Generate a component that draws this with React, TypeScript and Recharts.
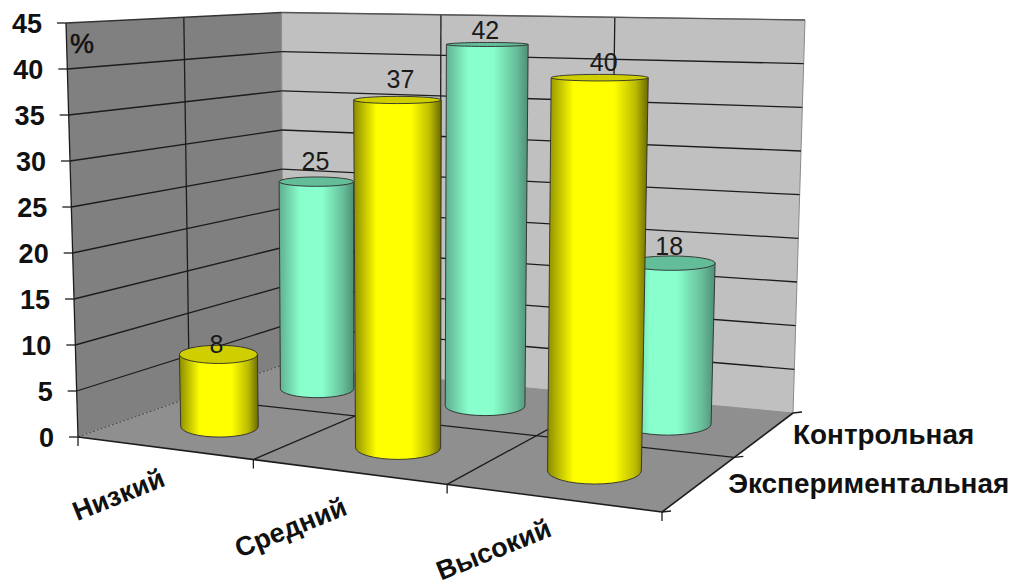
import React from 'react'
import { BarChart, Bar, XAxis, YAxis, LabelList } from 'recharts'

const categories = ['Низкий', 'Средний', 'Высокий']
const experimental = [8, 37, 40]
const control = [25, 42, 18]
const valueTicks = [0, 5, 10, 15, 20, 25, 30, 35, 40, 45]
const seriesNames = ['Экспериментальная', 'Контрольная']
const unitLabel = '%'

const rows = categories.map((name, i) => ({ name, experimental: experimental[i], control: control[i] }))

const W = 1016
const H = 585
const MAX_VALUE = 45
const FRONT_Z = 0.5
const BACK_Z = 1.5
const RADIUS_Z = 0.26
const BAR_SIZE = 154
const FONT = '"Liberation Sans", Arial, sans-serif'

// screen corners of the box at value 0 and at value 45
// order: front-left, front-right, back-right, back-left
const floorCorners = [[78, 437], [662, 512], [793, 413], [283, 365]]
const ceilCorners = [[66, 23], [671, 35], [805, 20], [281.5, 12.5]]

// unit square to quad homography
function squareToQuad(q: number[][]) {
  const [[x0, y0], [x1, y1], [x2, y2], [x3, y3]] = q
  const sx = x0 - x1 + x2 - x3
  const sy = y0 - y1 + y2 - y3
  const dx1 = x1 - x2
  const dx2 = x3 - x2
  const dy1 = y1 - y2
  const dy2 = y3 - y2
  const det = dx1 * dy2 - dx2 * dy1
  const g = (sx * dy2 - dx2 * sy) / det
  const h = (dx1 * sy - sx * dy1) / det
  return (s: number, t: number) => {
    const w = g * s + h * t + 1
    return [
      ((x1 - x0 + g * x1) * s + (x3 - x0 + h * x3) * t + x0) / w,
      ((y1 - y0 + g * y1) * s + (y3 - y0 + h * y3) * t + y0) / w,
    ]
  }
}

// u: 0..3 along categories, z: 0..2 front to back, v: value
function project(u: number, z: number, v: number) {
  const k = v / MAX_VALUE
  const quad = floorCorners.map((c, i) => [
    c[0] + (ceilCorners[i][0] - c[0]) * k,
    c[1] + (ceilCorners[i][1] - c[1]) * k,
  ])
  const s = u / 3
  // eases the foreshortening along the category direction a little
  return squareToQuad(quad)(s + 0.046 * s * (1 - s), z / 2)
}

// the axes take one pixel each, so the plot area starts at x=1 and ends at y=H-1
const uFromX = (x: number) => ((x - 1) / (W - 1)) * 3
const ruFromWidth = (w: number) => (w / (W - 1)) * 3
const vFromY = (y: number) => (1 - y / (H - 1)) * MAX_VALUE

const poly = (pts: number[][]) => pts.map((p) => p[0].toFixed(2) + ',' + p[1].toFixed(2)).join(' ')

function Seg({ a, b, color = '#1c1c1c', w = 1.3, dash }: any) {
  return <line x1={a[0]} y1={a[1]} x2={b[0]} y2={b[1]} stroke={color} strokeWidth={w} strokeDasharray={dash} />
}

function Walls() {
  const inner = valueTicks.filter((t) => t > 0 && t < MAX_VALUE)
  return (
    <g>
      <polygon points={poly([project(0, 0, 0), project(0, 2, 0), project(0, 2, 45), project(0, 0, 45)])} fill="#808080" />
      <polygon points={poly([project(0, 2, 0), project(3, 2, 0), project(3, 2, 45), project(0, 2, 45)])} fill="#c0c0c0" stroke="#8a8a8a" strokeWidth={1} />
      <polygon points={poly([project(0, 0, 0), project(3, 0, 0), project(3, 2, 0), project(0, 2, 0)])} fill="#8f8f8f" />
      {inner.map((t) => (
        <g key={t}>
          <Seg a={project(0, 0, t)} b={project(0, 2, t)} />
          <Seg a={project(0, 2, t)} b={project(3, 2, t)} />
        </g>
      ))}
      <Seg a={project(0, 1, 0)} b={project(0, 1, 45)} />
      <Seg a={project(1, 2, 0)} b={project(1, 2, 45)} />
      <Seg a={project(2, 2, 0)} b={project(2, 2, 45)} />
      <Seg a={project(0, 0, 45)} b={project(0, 2, 45)} color="#333" />
      <Seg a={project(0, 2, 45)} b={project(3, 2, 45)} color="#555" />
      <Seg a={project(0, 0, 0)} b={project(0, 0, 45)} />
      {/* floor */}
      <Seg a={project(0, 0, 0)} b={project(0, 2, 0)} color="#444" w={1} dash="2 2" />
      <Seg a={project(0, 1, 0)} b={project(3, 1, 0)} />
      <Seg a={project(1, 0, 0)} b={project(1, 2, 0)} />
      <Seg a={project(2, 0, 0)} b={project(2, 2, 0)} />
      <Seg a={project(0, 0, 0)} b={project(3, 0, 0)} w={1.6} />
      <Seg a={project(3, 0, 0)} b={project(3, 2, 0)} w={1.6} />
      {[0, 1, 2, 3].map((u) => {
        const p = project(u, 0, 0)
        return <Seg key={u} a={p} b={[p[0], p[1] + 9]} />
      })}
      {[0, 1, 2].map((z) => {
        const p = project(3, z, 0)
        return <Seg key={z} a={p} b={[p[0] + 9, p[1] - 1]} />
      })}
      <text x={82} y={44} textAnchor="middle" dominantBaseline="central" fontFamily={FONT} fontSize={27} stroke="#111" strokeWidth={0.5} fill="#111">{unitLabel}</text>
      {seriesNames.map((name, i) => {
        const p = project(3, i === 0 ? FRONT_Z : BACK_Z, 0)
        return (
          <text key={name} x={p[0] + 28} y={p[1] + 1} dominantBaseline="central" fontFamily={FONT} fontWeight={700} fontSize={27} textLength={i === 0 ? 281 : 181} lengthAdjust="spacingAndGlyphs" fill="#111">{name}</text>
        )
      })}
    </g>
  )
}

// horizontal ellipse of the cylinder at a given value
function ringAt(u: number, ru: number, z: number, v: number) {
  const c = project(u, z, v)
  const l = project(u - ru, z, v)
  const r = project(u + ru, z, v)
  const f = project(u, z - RADIUS_Z, v)
  const b = project(u, z + RADIUS_Z, v)
  return { cx: c[0], cy: c[1], rx: (r[0] - l[0]) / 2, ry: Math.abs(f[1] - b[1]) / 2 }
}

// one cylinder standing on the floor, from the bar rectangle
function Cylinder({ x, y, width, height, z, side, cap }: any) {
  const uc = uFromX(x + width / 2)
  const ru = ruFromWidth(width / 2)
  const t = ringAt(uc, ru, z, vFromY(y))
  const b = ringAt(uc, ru, z, vFromY(y + height))
  const d = `M${t.cx - t.rx} ${t.cy} L${t.cx + t.rx} ${t.cy} L${b.cx + b.rx} ${b.cy} A${b.rx} ${b.ry} 0 0 1 ${b.cx - b.rx} ${b.cy} Z`
  return (
    <g>
      <path d={d} fill={`url(#${side})`} stroke="#2c2c2c" strokeWidth={0.9} />
      <ellipse cx={t.cx} cy={t.cy} rx={t.rx} ry={t.ry} fill={cap} stroke="#2c2c2c" strokeWidth={0.9} />
    </g>
  )
}

const FrontBar = (props: any) => <Cylinder {...props} z={FRONT_Z} side="sideYellow" cap="#cfcf00" />
const BackBar = (props: any) => <Cylinder {...props} z={BACK_Z} side="sideGreen" cap="#63bd98" />

// label offsets per bar, screen px
const frontNudge = [[-2, -10], [3, -21], [4, -16]]
const backNudge = [[-1, -21], [-2, -14], [-2, -17]]
const categoryNudge = [[-45, 47], [-57, 56], [-58, 52]]

const valueLabel = (z: number, nudge: number[][]) => (props: any) => {
  const { x, y, width, value, index } = props
  const p = project(uFromX(x + width / 2), z, vFromY(y))
  return (
    <text x={p[0] + nudge[index][0]} y={p[1] + nudge[index][1]} textAnchor="middle" dominantBaseline="central" fontFamily={FONT} fontSize={25} fill="#1a1a1a">
      {value}
    </text>
  )
}

function ValueTick({ y, payload }: any) {
  const p = project(0, 0, vFromY(y))
  return (
    <g>
      <line x1={p[0] - 9} y1={p[1]} x2={p[0]} y2={p[1]} stroke="#1c1c1c" strokeWidth={1.3} />
      <text x={p[0] - 24} y={p[1] + 1} textAnchor="end" dominantBaseline="central" fontFamily={FONT} fontWeight={700} fontSize={27} fill="#111">
        {payload.value}
      </text>
    </g>
  )
}

function CategoryTick({ x, payload, index }: any) {
  const p = project(uFromX(x), 0, 0)
  const cx = p[0] + categoryNudge[index][0]
  const cy = p[1] + categoryNudge[index][1]
  return (
    <text x={cx} y={cy} textAnchor="middle" dominantBaseline="central" transform={`rotate(-22 ${cx} ${cy})`} fontFamily={FONT} fontWeight={700} fontSize={27} fill="#111">
      {payload.value}
    </text>
  )
}

export default function App() {
  return (
    <div style={{ position: 'absolute', left: 0, top: 0, background: '#fff' }}>
      <BarChart width={W} height={H} data={rows} margin={{ top: 0, right: 0, bottom: 0, left: 0 }} barSize={BAR_SIZE}>
        <defs>
          <linearGradient id="sideYellow" x1="0" y1="0" x2="1" y2="0">
            <stop offset="0%" stopColor="#8c8c00" />
            <stop offset="26%" stopColor="#ffff00" />
            <stop offset="66%" stopColor="#ffff00" />
            <stop offset="87%" stopColor="#bcbc00" />
            <stop offset="100%" stopColor="#6a6a00" />
          </linearGradient>
          <linearGradient id="sideGreen" x1="0" y1="0" x2="1" y2="0">
            <stop offset="0%" stopColor="#5fae90" />
            <stop offset="28%" stopColor="#88ffcc" />
            <stop offset="58%" stopColor="#88ffcc" />
            <stop offset="85%" stopColor="#68bf9b" />
            <stop offset="100%" stopColor="#4f8f76" />
          </linearGradient>
        </defs>
        <Walls />
        <XAxis xAxisId="front" dataKey="name" height={1} axisLine={false} tickLine={false} interval={0} tick={<CategoryTick />} />
        <XAxis xAxisId="back" dataKey="name" hide />
        <YAxis width={1} domain={[0, MAX_VALUE]} ticks={valueTicks} axisLine={false} tickLine={false} interval={0} tick={<ValueTick />} />
        <Bar xAxisId="back" dataKey="control" shape={<BackBar />} isAnimationActive={false}>
          <LabelList dataKey="control" content={valueLabel(BACK_Z, backNudge)} />
        </Bar>
        <Bar xAxisId="front" dataKey="experimental" shape={<FrontBar />} isAnimationActive={false}>
          <LabelList dataKey="experimental" content={valueLabel(FRONT_Z, frontNudge)} />
        </Bar>
      </BarChart>
    </div>
  )
}
